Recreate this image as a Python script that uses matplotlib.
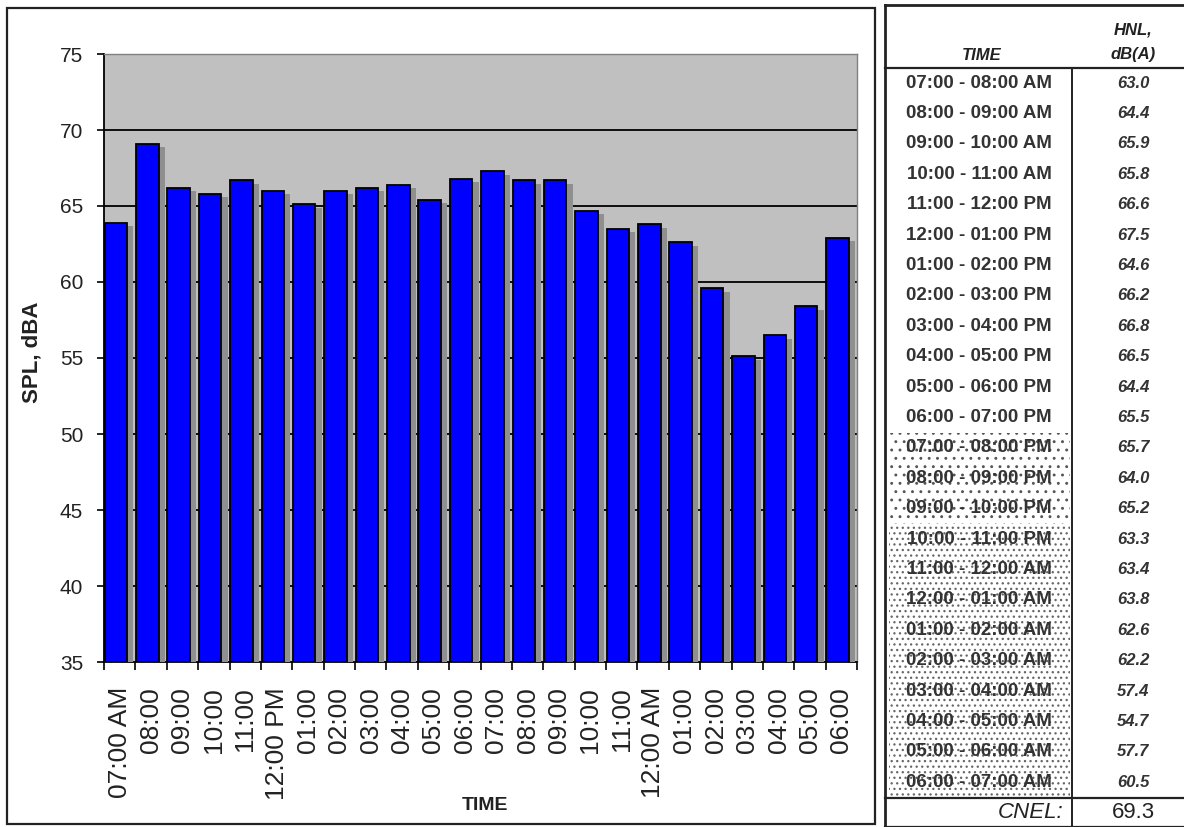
import matplotlib
matplotlib.use("Agg")
import matplotlib.pyplot as plt
import matplotlib.patheffects as pe
from matplotlib.patches import Rectangle
import numpy as np

plt.rcParams['font.family'] = ['Liberation Sans', 'DejaVu Sans']
plt.rcParams['hatch.linewidth'] = 0.9

# ---------------- data ----------------
hour_labels = ["07:00 AM", "08:00", "09:00", "10:00", "11:00", "12:00 PM",
               "01:00", "02:00", "03:00", "04:00", "05:00", "06:00",
               "07:00", "08:00", "09:00", "10:00", "11:00", "12:00 AM",
               "01:00", "02:00", "03:00", "04:00", "05:00", "06:00"]
spl_values = [63.9, 69.1, 66.2, 65.8, 66.7, 66.0, 65.1, 66.0, 66.2, 66.4, 65.4, 66.8,
              67.3, 66.7, 66.7, 64.7, 63.5, 63.8, 62.6, 59.6, 55.1, 56.5, 58.4, 62.9]
y_ticks = [35, 40, 45, 50, 55, 60, 65, 70, 75]

table_times = ["07:00 - 08:00 AM", "08:00 - 09:00 AM", "09:00 - 10:00 AM", "10:00 - 11:00 AM",
               "11:00 - 12:00 PM", "12:00 - 01:00 PM", "01:00 - 02:00 PM", "02:00 - 03:00 PM",
               "03:00 - 04:00 PM", "04:00 - 05:00 PM", "05:00 - 06:00 PM", "06:00 - 07:00 PM",
               "07:00 - 08:00 PM", "08:00 - 09:00 PM", "09:00 - 10:00 PM", "10:00 - 11:00 PM",
               "11:00 - 12:00 AM", "12:00 - 01:00 AM", "01:00 - 02:00 AM", "02:00 - 03:00 AM",
               "03:00 - 04:00 AM", "04:00 - 05:00 AM", "05:00 - 06:00 AM", "06:00 - 07:00 AM"]
table_hnl = ["63.0", "64.4", "65.9", "65.8", "66.6", "67.5", "64.6", "66.2", "66.8", "66.5",
             "64.4", "65.5", "65.7", "64.0", "65.2", "63.3", "63.4", "63.8", "62.6", "62.2",
             "57.4", "54.7", "57.7", "60.5"]
cnel_value = "69.3"

# ---------------- figure ----------------
W, H = 1184, 827
fig = plt.figure(figsize=(W / 100, H / 100), dpi=100)
fig.patch.set_facecolor('white')

# chart axes
ax = fig.add_axes([104 / W, 1 - 662 / H, (857 - 104) / W, (662 - 54) / H])
ax.set_facecolor('#c0c0c0')
x = np.arange(len(spl_values))
ax.set_xlim(-0.5, len(spl_values) - 0.5)
ax.set_ylim(35, 75)

for yv in y_ticks[1:-1]:
    ax.axhline(yv, color='black', lw=1.3, zorder=1)

bars = ax.bar(x - 0.12, np.array(spl_values) - 35, bottom=35, width=0.72,
              color='#0000ff', edgecolor='black', linewidth=1.3, zorder=3)
for b in bars:
    b.set_path_effects([pe.SimplePatchShadow(offset=(4.5, -2.5), shadow_rgbFace='#8f8f8f', alpha=1.0),
                        pe.Normal()])

ax.set_yticks(y_ticks)
ax.set_yticklabels([str(v) for v in y_ticks], fontsize=15, color='#222222')
ax.tick_params(axis='y', direction='out', length=5, width=1.2, color='black', pad=10)

ax.set_xticks(x)
ax.set_xticklabels(hour_labels, rotation=90, fontsize=19, color='#222222', va='top', ha='center')
ax.tick_params(axis='x', which='major', length=0, pad=18)
ax.set_xticks(np.arange(-0.5, len(spl_values)), minor=True)
ax.tick_params(axis='x', which='minor', direction='out', length=6, width=1.2, color='black')

for s in ['left', 'bottom']:
    ax.spines[s].set_color('black')
    ax.spines[s].set_linewidth(1.3)
for s in ['top', 'right']:
    ax.spines[s].set_color('#808080')
    ax.spines[s].set_linewidth(1.0)

# overlay in pixel coordinates for frame, labels and table
ov = fig.add_axes([0, 0, 1, 1], facecolor='none')
ov.set_xlim(0, W)
ov.set_ylim(H, 0)
ov.axis('off')

# chart frame
ov.add_patch(Rectangle((7, 8), 868, 816, fill=False, edgecolor='#222222', lw=1.6))

ov.text(32, 352, "SPL, dBA", rotation=90, fontsize=16, fontweight='bold', color='#222222',
        ha='center', va='center')
ov.text(485, 805, "TIME", fontsize=14, fontweight='bold', color='#222222', ha='center', va='center')

# table
tl, tr, tdiv = 885, 1184, 1072
ttop, thead = 5, 68
row_h = 30.4
n = len(table_times)
tbot_rows = thead + row_h * n
tbot = tbot_rows + 29

# shading: evening rows sparse dots, night rows dense dots
ov.add_patch(Rectangle((tl + 4, thead + row_h * 12), tdiv - tl - 6, row_h * 3,
                       facecolor='white', edgecolor='#555555', hatch='..', lw=0))
ov.add_patch(Rectangle((tl + 4, thead + row_h * 15), tdiv - tl - 6, row_h * 9,
                       facecolor='white', edgecolor='#666666', hatch='...', lw=0))

lc = '#222222'
ov.plot([tl, tr], [ttop, ttop], color=lc, lw=2.0)
ov.plot([tl, tl], [ttop, tbot], color=lc, lw=2.0)
ov.plot([tl, tr], [thead, thead], color=lc, lw=1.6)
ov.plot([tdiv, tdiv], [thead, tbot], color=lc, lw=1.4)
ov.plot([tl, tr], [tbot_rows, tbot_rows], color=lc, lw=1.6)
ov.plot([tl, tr], [tbot, tbot], color=lc, lw=1.6)

ov.text(982, 55, "TIME", fontsize=12, fontweight='bold', fontstyle='italic', color='#222222',
        ha='center', va='center')
ov.text(1133, 30, "HNL,", fontsize=12, fontweight='bold', fontstyle='italic', color='#222222',
        ha='center', va='center')
ov.text(1133, 55, "dB(A)", fontsize=12, fontweight='bold', fontstyle='italic', color='#222222',
        ha='center', va='center')

for i, (t, v) in enumerate(zip(table_times, table_hnl)):
    yc = thead + row_h * (i + 0.5)
    ov.text(979, yc, t, fontsize=13.5, fontweight='bold', color='#333333', ha='center', va='center')
    ov.text(1133, yc, v, fontsize=12, fontweight='bold', fontstyle='italic', color='#333333',
            ha='center', va='center')

yc = (tbot_rows + tbot) / 2
ov.text(1063, yc, "CNEL:", fontsize=16, fontstyle='italic', color='#222222', ha='right', va='center')
ov.text(1133, yc, cnel_value, fontsize=16, color='#222222', ha='center', va='center')

fig.savefig("out.png", dpi=100, facecolor='white')
